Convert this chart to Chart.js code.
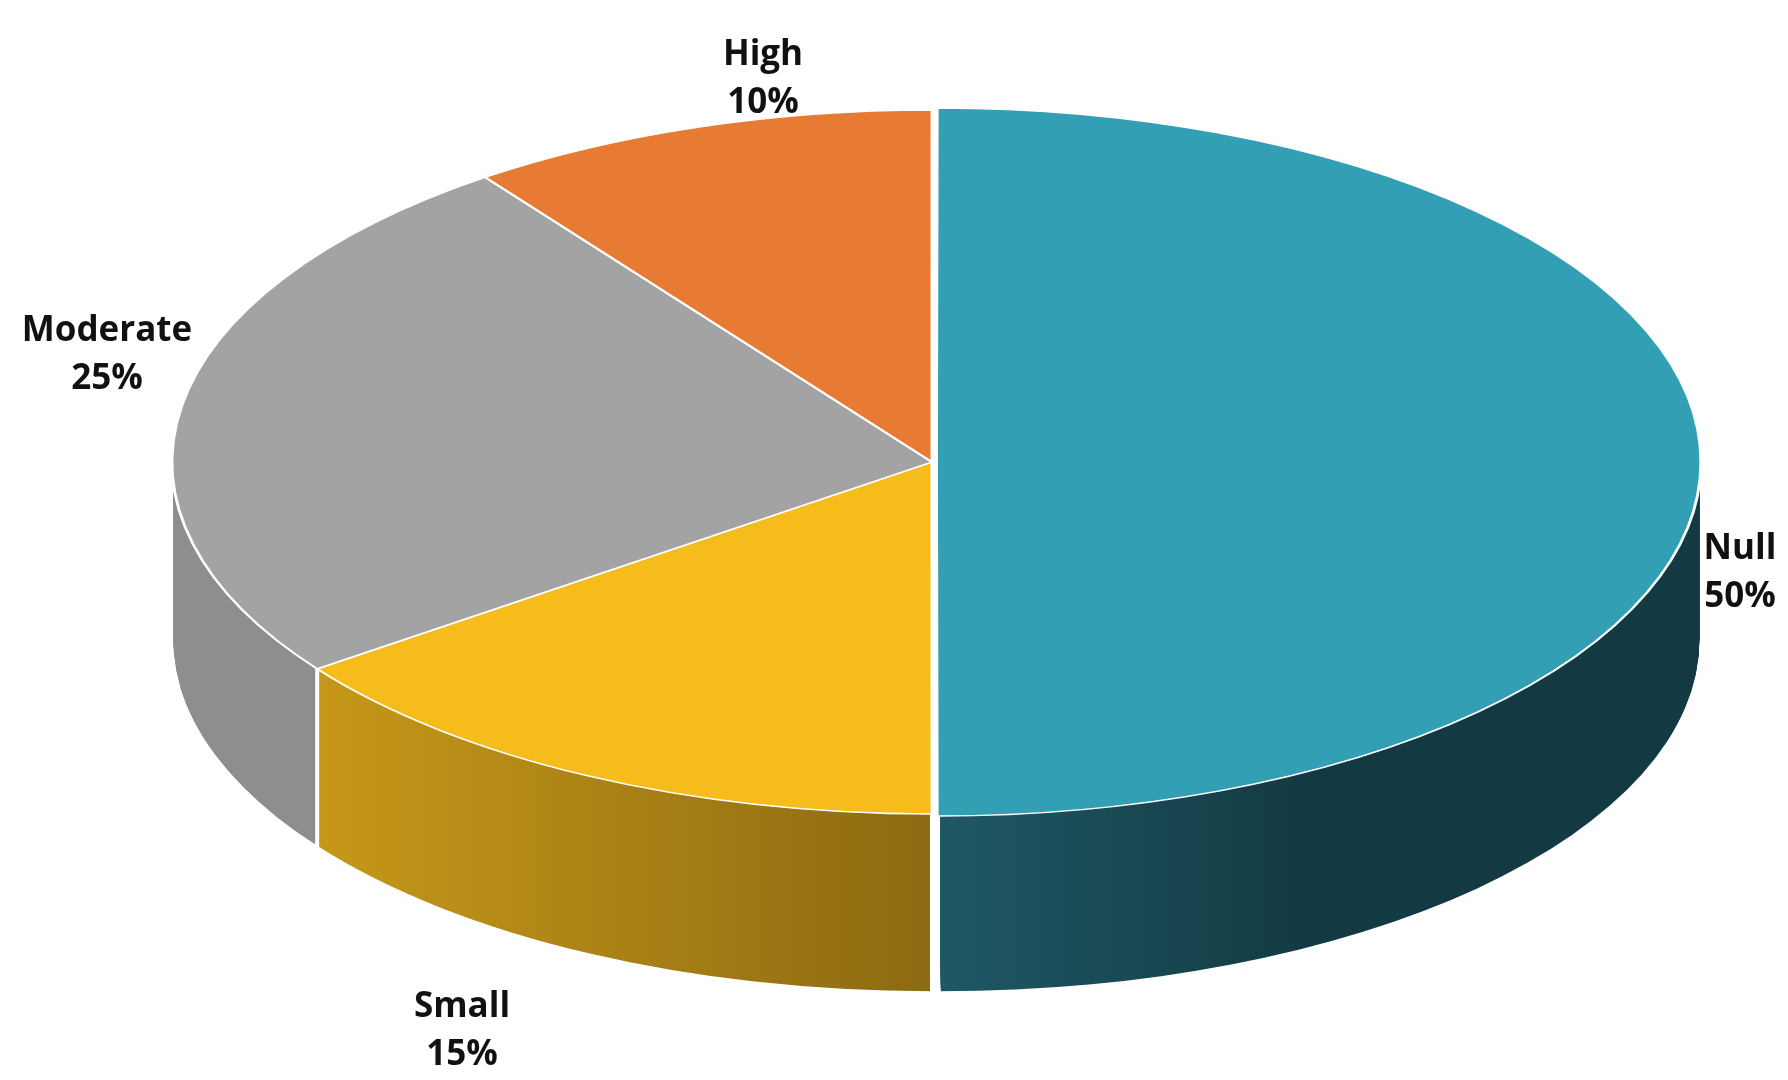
<!DOCTYPE html>
<html>
<head>
<meta charset="utf-8">
<script src="https://cdn.jsdelivr.net/npm/chart.js@4.4.0/dist/chart.umd.min.js"></script>
<style>
  html, body { margin: 0; padding: 0; background: #fff; }
  #wrap { width: 1788px; height: 1080px; }
</style>
</head>
<body>
<div id="wrap"><canvas id="pie3d"></canvas></div>
<script>
// Pie data, clockwise from 12 o'clock
const categories = ["Null", "Small", "Moderate", "High"];
const percents = [50, 15, 25, 10];
const topColors = ["#329fb4", "#f5bc1c", "#a3a3a3", "#e87b33"];
const sideColors = [["#1f5866", "#133a42"], ["#d4a21a", "#8c6a12"], ["#8e8e8e", "#8a8a8a"], ["#b85f25", "#a85522"]];

// ellipse geometry on screen
const CX = 932, CY = 462, RX = 760, RY = 352, DEPTH = 178;
const labelPos = [[1740, 532], [462, 990], [107, 314], [763, 38]];

function setEllipse(ctx, arc, dy) {
  const sx = RX / arc.outerRadius, sy = RY / arc.outerRadius;
  ctx.translate(CX, CY + dy);
  ctx.scale(sx, sy);
  ctx.translate(-arc.x, -arc.y);
}

const pie3d = {
  id: "pie3d",
  beforeDatasetsDraw(chart) {
    const ctx = chart.ctx;
    const arcs = chart.getDatasetMeta(0).data;
    const base = ctx.getTransform();
    // extruded sides
    for (let d = DEPTH; d >= 1; d -= 1) {
      arcs.forEach((arc, i) => {
        const off = (chart.data.datasets[0].offset[i] || 0) / 2;
        const mid = (arc.startAngle + arc.endAngle) / 2;
        ctx.save();
        setEllipse(ctx, arc, d);
        const ox = arc.x + Math.cos(mid) * off, oy = arc.y + Math.sin(mid) * off;
        ctx.beginPath();
        ctx.moveTo(ox, oy);
        ctx.arc(ox, oy, arc.outerRadius - 1, arc.startAngle, arc.endAngle);
        ctx.closePath();
        ctx.setTransform(base);
        const g = ctx.createLinearGradient(CX - RX, 0, CX + RX, 0);
        if (i === 1) {
          g.addColorStop(0, sideColors[i][0]);
          g.addColorStop(0.5, sideColors[i][1]);
          g.addColorStop(1, sideColors[i][1]);
        } else if (i === 0) {
          g.addColorStop(0, sideColors[i][0]);
          g.addColorStop(0.5, sideColors[i][0]);
          g.addColorStop(0.75, sideColors[i][1]);
          g.addColorStop(1, sideColors[i][1]);
        } else {
          g.addColorStop(0, sideColors[i][0]);
          g.addColorStop(1, sideColors[i][1]);
        }
        ctx.fillStyle = g;
        ctx.fill();
        ctx.restore();
      });
    }
    // white seams on the side between slices
    ctx.save();
    ctx.strokeStyle = "#fff";
    ctx.lineWidth = 4;
    arcs.forEach((arc) => {
      const a = arc.startAngle;
      const s = Math.sin(a);
      if (s < 0.02) return;
      const x = CX + RX * Math.cos(a), y = CY + RY * s;
      ctx.beginPath();
      ctx.moveTo(x, y);
      ctx.lineTo(x, y + DEPTH);
      ctx.stroke();
    });
    ctx.restore();
    // top face via the library, drawn into the ellipse
    ctx.save();
    setEllipse(ctx, arcs[0], 0);
  },
  afterDatasetsDraw(chart) {
    chart.ctx.restore();
  },
  afterDraw(chart) {
    const ctx = chart.ctx;
    ctx.save();
    ctx.fillStyle = "#111";
    ctx.font = "bold 35px 'Open Sans'";
    ctx.textAlign = "center";
    ctx.textBaseline = "top";
    categories.forEach((c, i) => {
      const [x, y] = labelPos[i];
      ctx.fillText(c, x, y);
      ctx.fillText(percents[i] + "%", x, y + 48);
    });
    ctx.restore();
  }
};

new Chart(document.getElementById("pie3d"), {
  type: "pie",
  data: {
    labels: categories,
    datasets: [{
      data: percents,
      backgroundColor: topColors,
      borderColor: "#ffffff",
      borderWidth: 2,
      offset: [12, 0, 0, 0],
      clip: false
    }]
  },
  options: {
    responsive: true,
    maintainAspectRatio: false,
    animation: false,
    events: [],
    layout: { padding: 20 },
    plugins: { legend: { display: false }, tooltip: { enabled: false } }
  },
  plugins: [pie3d]
});
</script>
</body>
</html>
